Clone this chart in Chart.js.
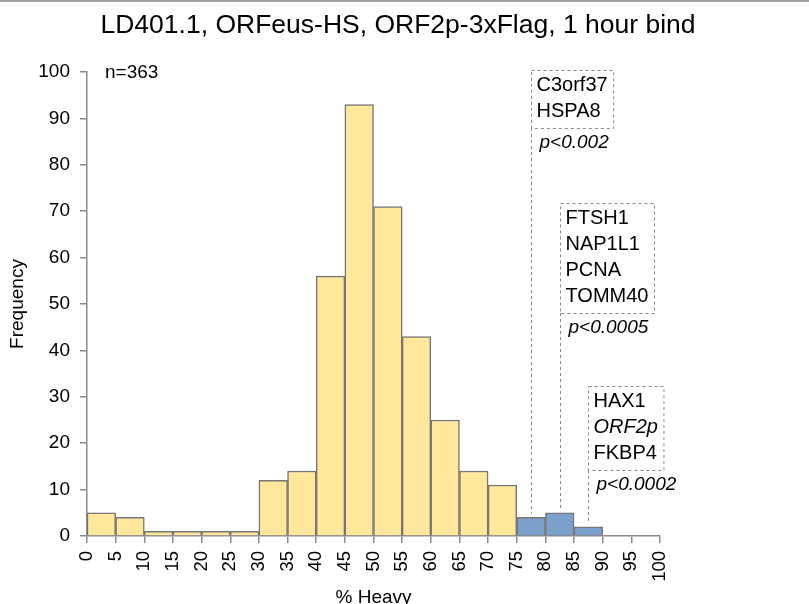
<!DOCTYPE html>
<html>
<head>
<meta charset="utf-8">
<script src="https://cdn.jsdelivr.net/npm/chart.js@4.4.0/dist/chart.umd.min.js"></script>
<style>
  html, body { margin: 0; padding: 0; background: #fff; }
  canvas { display: block; }
</style>
</head>
<body>
<canvas id="histChart" width="809" height="604"></canvas>
<script>
// histogram bins (% heavy, lower edge) and counts
var binStarts = [0, 5, 10, 15, 20, 25, 30, 35, 40, 45, 50, 55, 60, 65, 70, 75, 80, 85, 90, 95];
var counts    = [5, 4, 1, 1, 1, 1, 12, 14, 56, 93, 71, 43, 25, 14, 11, 4, 5, 2, 0, 0];
var yTicks    = [0, 10, 20, 30, 40, 50, 60, 70, 80, 90, 100];
var xTicks    = [0, 5, 10, 15, 20, 25, 30, 35, 40, 45, 50, 55, 60, 65, 70, 75, 80, 85, 90, 95, 100];
var highlightFrom = 75;

// proteins called out for each enriched bin
var calloutBins = [75, 80, 85];
var calloutGenes = [
  ['C3orf37', 'HSPA8'],
  ['FTSH1', 'NAP1L1', 'PCNA', 'TOMM40'],
  ['HAX1', 'ORF2p', 'FKBP4']
];
var calloutPvals = ['p<0.002', 'p<0.0005', 'p<0.0002'];
var italicGenes = ['ORF2p'];
var sampleSize = 363;
var chartTitle = 'LD401.1, ORFeus-HS, ORF2p-3xFlag, 1 hour bind';

var FONT = '"Liberation Sans", Arial, sans-serif';

var points = binStarts.map(function(b, i) { return { x: b + 2.5, y: counts[i] }; });
var barColors = binStarts.map(function(b) { return b >= highlightFrom ? '#7ba0cc' : '#ffe79c'; });

// box tops (px from top of canvas) for the three callouts
var boxTops = [70, 203, 386];

var calloutPlugin = {
  id: 'callouts',
  afterDatasetsDraw: function(chart) {
    var ctx = chart.ctx;
    var meta = chart.getDatasetMeta(0);
    ctx.save();

    // thin frame line at top of the picture
    ctx.strokeStyle = '#a0a0a0';
    ctx.lineWidth = 2;
    ctx.beginPath();
    ctx.moveTo(0, 1);
    ctx.lineTo(chart.width, 1);
    ctx.stroke();

    ctx.fillStyle = '#000';
    ctx.textBaseline = 'middle';
    ctx.textAlign = 'center';
    ctx.font = '26.5px ' + FONT;
    ctx.fillText(chartTitle, 398, 26);

    ctx.textAlign = 'left';
    ctx.font = '19px ' + FONT;
    ctx.fillText('n=' + sampleSize, chart.chartArea.left + 18, chart.chartArea.top + 1);

    calloutBins.forEach(function(bin, k) {
      var bar = meta.data[binStarts.indexOf(bin)];
      var x = Math.round(bar.x) + 0.5;
      var top = boxTops[k];
      var genes = calloutGenes[k];
      var lineH = 26;

      var maxW = 0;
      genes.forEach(function(g) {
        ctx.font = (italicGenes.indexOf(g) >= 0 ? 'italic ' : '') + '20px ' + FONT;
        maxW = Math.max(maxW, ctx.measureText(g).width);
      });
      var w = maxW + 11;
      var bottom = top + 15 + (genes.length - 1) * lineH + 17;

      ctx.strokeStyle = '#8a8a8a';
      ctx.lineWidth = 1;
      ctx.setLineDash([3, 3]);
      ctx.strokeRect(x, top + 0.5, w, bottom - top);
      ctx.beginPath();
      ctx.moveTo(x, bottom);
      ctx.lineTo(x, bar.y - 4);
      ctx.stroke();
      ctx.setLineDash([]);

      ctx.fillStyle = '#000';
      genes.forEach(function(g, i) {
        ctx.font = (italicGenes.indexOf(g) >= 0 ? 'italic ' : '') + '20px ' + FONT;
        ctx.fillText(g, x + 5, top + 15 + i * lineH);
      });
      ctx.font = 'italic 19px ' + FONT;
      ctx.fillText(calloutPvals[k], x + 8, bottom + 15);
    });
    ctx.restore();
  }
};

var ctx = document.getElementById('histChart');
var histChart = new Chart(ctx, {
  type: 'bar',
  data: {
    datasets: [{
      data: points,
      backgroundColor: barColors,
      borderColor: '#767676',
      borderWidth: 1.5,
      barPercentage: 1,
      categoryPercentage: 1
    }]
  },
  options: {
    responsive: false,
    animation: false,
    layout: { padding: { left: 0, right: 149, top: 72, bottom: 0 } },
    plugins: {
      legend: { display: false },
      tooltip: { enabled: false },
      title: { display: false }
    },
    scales: {
      x: {
        type: 'linear',
        min: 0,
        max: 100,
        offset: false,
        afterBuildTicks: function(scale) {
          scale.ticks = xTicks.map(function(v) { return { value: v }; });
        },
        afterFit: function(scale) { scale.height = 68; },
        ticks: {
          color: '#000',
          font: { family: FONT, size: 18.5 },
          minRotation: 90,
          maxRotation: 90,
          autoSkip: false,
          padding: 8
        },
        grid: { display: true, drawOnChartArea: false, offset: false, tickLength: 7, color: '#8a8a8a', lineWidth: 1.5 },
        border: { display: true, color: '#8a8a8a', width: 1.5 },
        title: {
          display: true,
          text: '% Heavy',
          color: '#000',
          font: { family: FONT, size: 19 },
          padding: { top: 0, bottom: -5 }
        }
      },
      y: {
        min: 0,
        max: 100,
        afterBuildTicks: function(scale) {
          scale.ticks = yTicks.map(function(v) { return { value: v }; });
        },
        afterFit: function(scale) { scale.width = 87; },
        ticks: {
          color: '#000',
          font: { family: FONT, size: 19 },
          padding: 10
        },
        grid: { display: true, drawOnChartArea: false, tickLength: 7, color: '#8a8a8a', lineWidth: 1.5 },
        border: { display: true, color: '#8a8a8a', width: 1.5 },
        title: {
          display: true,
          text: 'Frequency',
          color: '#000',
          font: { family: FONT, size: 19 },
          padding: { top: 6, bottom: 0 }
        }
      }
    }
  },
  plugins: [calloutPlugin]
});
</script>
</body>
</html>
